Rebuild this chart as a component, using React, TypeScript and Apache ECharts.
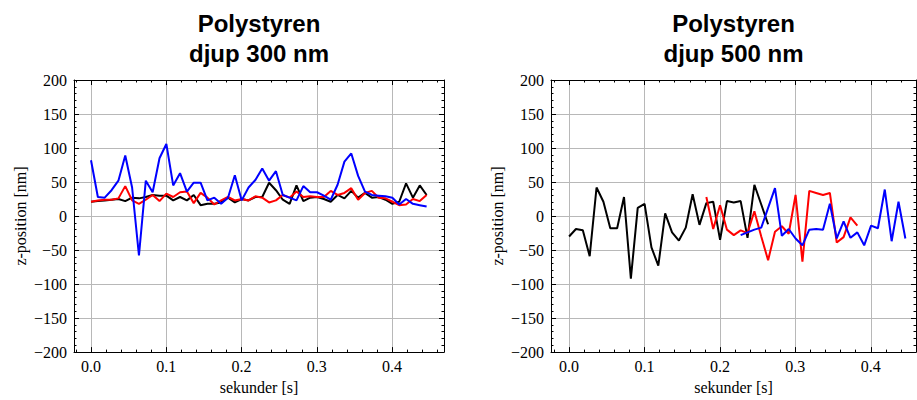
import React, { useEffect, useRef } from "react";
import * as echarts from "echarts";

// sample spacing (seconds) of the measurements
const DT = 0.0091;

// ---------- left panel: djup 300 nm ----------
const LEFT_BLACK = [21, 22, 23, 24, 25, 22, 27, 26, 28, 31, 30, 30, 23, 28, 23, 31, 16, 18, 18, 20, 27, 20, 25, 23, 28, 28, 49, 38, 24, 18, 45, 22, 27, 28, 25, 21, 31, 26, 37, 27, 34, 27, 28, 24, 18, 21, 48, 27, 45, 31];
const LEFT_RED = [21, 23, 24, 24, 26, 44, 23, 18, 24, 31, 22, 33, 28, 35, 36, 19, 34, 27, 17, 23, 28, 23, 25, 23, 29, 27, 20, 23, 31, 27, 36, 28, 29, 28, 28, 37, 31, 34, 41, 24, 34, 37, 27, 26, 21, 16, 17, 25, 22, 31];
const LEFT_BLUE = [82, 28, 27, 38, 52, 89, 42, -58, 52, 35, 85, 106, 45, 63, 36, 49, 49, 23, 27, 18, 27, 60, 23, 42, 53, 70, 52, 66, 31, 27, 23, 44, 35, 35, 30, 24, 46, 80, 92, 59, 36, 31, 30, 29, 27, 17, 25, 18, 16, 14];
const LEFT_START = { black: 0, red: 0, blue: 0 };

// ---------- right panel: djup 500 nm ----------
const RIGHT_BLACK = [-30, -19, -21, -59, 42, 21, -18, -18, 28, -92, 12, 18, -46, -73, 4, -24, -36, -17, 32, -13, 19, 21, -35, 22, 20, 22, -32, 46, 17, -12];
const RIGHT_RED = [28, -19, 16, -20, -28, -21, -25, 7, -30, -65, -23, -15, -26, 31, -67, 37, 34, 31, 34, -39, -31, -2, -14];
const RIGHT_BLUE = [-28, -24, -20, -17, 12, 41, -29, -19, -33, -43, -20, -19, -20, 18, -33, -8, -32, -24, -43, -14, -18, 39, -37, 21, -33];
const RIGHT_START = { black: 0, red: 20, blue: 25 };

// ---------- axes ----------
const X_TICKS = [0, 0.1, 0.2, 0.3, 0.4];
const X_MINOR_STEP = 0.02;
const Y_MIN = -200;
const Y_MAX = 200;
const Y_STEP = 50;

const TITLES = ["Polystyren\ndjup 300 nm", "Polystyren\ndjup 500 nm"];
const X_NAME = "sekunder [s]";
const Y_NAME = "z-position [nm]";

const COLORS = { black: "#000000", red: "#ff0000", blue: "#0000ff" };

const SERIF = "'Liberation Serif', 'DejaVu Serif', serif";
const SANS = "'Liberation Sans', Arial, sans-serif";

function toPairs(values: number[], start: number) {
  return values.map((v, i) => [(start + i) * DT, v]);
}

function minorTicks(min: number, max: number) {
  const out: number[] = [];
  for (let k = Math.ceil(min / X_MINOR_STEP); k * X_MINOR_STEP <= max; k++) {
    out.push(+(k * X_MINOR_STEP).toFixed(4));
  }
  return out;
}

export default function App() {
  const ref = useRef<HTMLDivElement>(null);

  useEffect(() => {
    if (!ref.current) return;
    const chart = echarts.init(ref.current, null, { renderer: "svg" });

    const grids = [
      { left: 74, right: 473, top: 80, bottom: 43, xmin: -0.0226, xmax: 0.469 },
      { left: 551, right: 1, top: 80, bottom: 43, xmin: -0.024, xmax: 0.46 },
    ];

    const xAxis: any[] = [];
    const yAxis: any[] = [];
    grids.forEach((g, gi) => {
      const minors = minorTicks(g.xmin, g.xmax);
      // bottom major
      xAxis.push({
        type: "value",
        gridIndex: gi,
        position: "bottom",
        min: g.xmin,
        max: g.xmax,
        name: X_NAME,
        nameLocation: "middle",
        nameGap: 23,
        nameTextStyle: { fontFamily: SERIF, fontSize: 16, color: "#000" },
        axisLine: { show: true, onZero: false, lineStyle: { color: "#000", width: 1 } },
        axisTick: { show: true, inside: true, length: 5, customValues: X_TICKS, lineStyle: { color: "#000" } },
        axisLabel: {
          show: true,
          customValues: X_TICKS,
          margin: 6,
          fontFamily: SERIF,
          fontSize: 16,
          color: "#000",
          formatter: (v: number) => v.toFixed(1),
        },
        splitLine: { show: true, lineStyle: { color: "#b8b8b8", width: 1 } },
      });
      // bottom minor
      xAxis.push({
        type: "value",
        gridIndex: gi,
        position: "bottom",
        min: g.xmin,
        max: g.xmax,
        axisLine: { show: false, onZero: false },
        axisTick: { show: true, inside: true, length: 2.5, customValues: minors, lineStyle: { color: "#000" } },
        axisLabel: { show: false },
        splitLine: { show: false },
      });
      // top major
      xAxis.push({
        type: "value",
        gridIndex: gi,
        position: "top",
        min: g.xmin,
        max: g.xmax,
        axisLine: { show: true, onZero: false, lineStyle: { color: "#000", width: 1 } },
        axisTick: { show: true, inside: true, length: 5, customValues: X_TICKS, lineStyle: { color: "#000" } },
        axisLabel: { show: false },
        splitLine: { show: false },
      });
      // top minor
      xAxis.push({
        type: "value",
        gridIndex: gi,
        position: "top",
        min: g.xmin,
        max: g.xmax,
        axisLine: { show: false, onZero: false },
        axisTick: { show: true, inside: true, length: 2.5, customValues: minors, lineStyle: { color: "#000" } },
        axisLabel: { show: false },
        splitLine: { show: false },
      });
      // left y
      yAxis.push({
        type: "value",
        gridIndex: gi,
        position: "left",
        min: Y_MIN,
        max: Y_MAX,
        interval: Y_STEP,
        name: Y_NAME,
        nameLocation: "middle",
        nameGap: 46,
        nameTextStyle: { fontFamily: SERIF, fontSize: 16, color: "#000" },
        axisLine: { show: true, onZero: false, lineStyle: { color: "#000", width: 1 } },
        axisTick: { show: true, inside: true, length: 5, lineStyle: { color: "#000" } },
        minorTick: { show: true, splitNumber: 5, length: 2.5, lineStyle: { color: "#000" } },
        axisLabel: {
          margin: 7,
          fontFamily: SERIF,
          fontSize: 16,
          color: "#000",
          formatter: (v: number) => String(v).replace("-", "\u2212"),
        },
        splitLine: { show: true, lineStyle: { color: "#b8b8b8", width: 1 } },
      });
      // right y
      yAxis.push({
        type: "value",
        gridIndex: gi,
        position: "right",
        min: Y_MIN,
        max: Y_MAX,
        interval: Y_STEP,
        axisLine: { show: true, onZero: false, lineStyle: { color: "#000", width: 1 } },
        axisTick: { show: true, inside: true, length: 5, lineStyle: { color: "#000" } },
        minorTick: { show: true, splitNumber: 5, length: 2.5, lineStyle: { color: "#000" } },
        axisLabel: { show: false },
        splitLine: { show: false },
      });
    });

    const mk = (name: string, color: string, data: number[][], gi: number) => ({
      name,
      type: "line",
      xAxisIndex: gi * 4,
      yAxisIndex: gi * 2,
      data,
      showSymbol: false,
      symbol: "none",
      lineStyle: { color, width: 2 },
      clip: true,
    });

    const series = [
      mk("black", COLORS.black, toPairs(LEFT_BLACK, LEFT_START.black), 0),
      mk("red", COLORS.red, toPairs(LEFT_RED, LEFT_START.red), 0),
      mk("blue", COLORS.blue, toPairs(LEFT_BLUE, LEFT_START.blue), 0),
      mk("black", COLORS.black, toPairs(RIGHT_BLACK, RIGHT_START.black), 1),
      mk("red", COLORS.red, toPairs(RIGHT_RED, RIGHT_START.red), 1),
      mk("blue", COLORS.blue, toPairs(RIGHT_BLUE, RIGHT_START.blue), 1),
    ];

    const graphic: any[] = [];
    grids.forEach((g, gi) => {
      const cx = (g.left + (917 - g.right)) / 2;
      const lines = TITLES[gi].split("\n");
      lines.forEach((t, li) => {
        graphic.push({
          type: "text",
          x: cx,
          y: 23 + li * 30,
          style: {
            text: t,
            align: "center",
            verticalAlign: "middle",
            font: `bold 24px ${SANS}`,
            fill: "#000",
          },
        });
      });
    });

    chart.setOption({
      animation: false,
      backgroundColor: "#ffffff",
      grid: grids.map((g) => ({ left: g.left, right: g.right, top: g.top, bottom: g.bottom, containLabel: false })),
      xAxis,
      yAxis,
      series,
      graphic,
    });

    return () => chart.dispose();
  }, []);

  return (
    <div
      ref={ref}
      style={{ position: "fixed", left: 0, top: 0, width: 917, height: 400, background: "#fff" }}
    />
  );
}
